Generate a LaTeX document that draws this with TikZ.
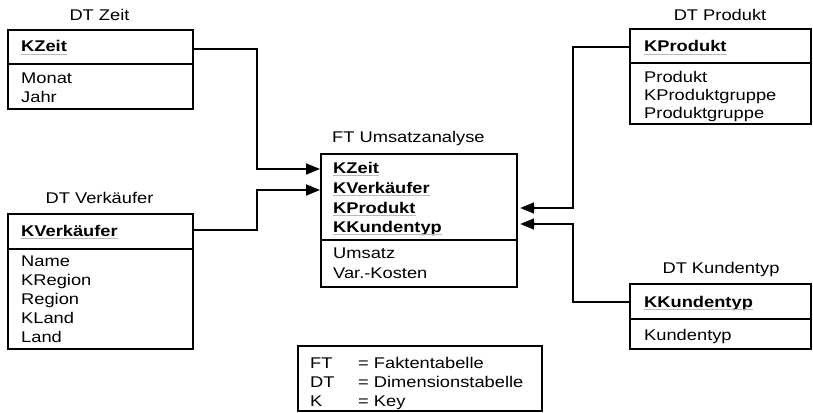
\documentclass[tikz,border=0pt]{standalone}
\usepackage{fontspec}
\setmainfont{Liberation Sans}[FakeStretch=1.18]
\usetikzlibrary{arrows.meta}
\begin{document}
\begin{tikzpicture}[x=1pt,y=-1pt,
  font=\fontsize{15.5}{19}\selectfont,
  box/.style={draw, line width=2.2pt, inner sep=0pt, anchor=north west},
  divider/.style={line width=1.6pt},
  txt/.style={anchor=base west, inner sep=0pt},
  ttl/.style={anchor=base, inner sep=0pt},
  keytxt/.style={anchor=base west, inner sep=0pt, font=\fontsize{15.5}{19}\selectfont\bfseries},
  conn/.style={line width=1.8pt},
  arr/.style={conn, -{Triangle[length=14pt,width=11pt]}},
  ul/.style={draw=gray!55, line width=0.8pt}]
\useasboundingbox (0,0) rectangle (813,412);

% ---------- DT Zeit ----------
\node[box, minimum width=185pt, minimum height=79pt] (zeit) at (7,29) {};
\draw[divider] ([yshift=-35pt]zeit.north west) -- ([yshift=-35pt]zeit.north east);
\node[ttl] (zeitT) at (99.5,21) {DT Zeit};
\node[keytxt] (zeitK) at (21,52) {KZeit};
\draw[ul] ([yshift=-2pt]zeitK.base west) -- ([yshift=-2pt]zeitK.base east);
\node[txt] (zeit1) at (21,83) {Monat};
\node[txt] (zeit2) at (21,102) {Jahr};

% ---------- DT Verkaeufer ----------
\node[box, minimum width=185pt, minimum height=135pt] (verk) at (7,213) {};
\draw[divider] ([yshift=-36pt]verk.north west) -- ([yshift=-36pt]verk.north east);
\node[ttl] (verkT) at (99.5,203) {DT Verkäufer};
\node[keytxt] (verkK) at (21,236) {KVerkäufer};
\draw[ul] ([yshift=-2pt]verkK.base west) -- ([yshift=-2pt]verkK.base east);
\node[txt] (verk1) at (21,266) {Name};
\node[txt] (verk2) at (21,285) {KRegion};
\node[txt] (verk3) at (21,304) {Region};
\node[txt] (verk4) at (21,323) {KLand};
\node[txt] (verk5) at (21,342) {Land};

% ---------- FT Umsatzanalyse ----------
\node[box, minimum width=196pt, minimum height=133pt] (ft) at (320,153) {};
\draw[divider] ([yshift=-87pt]ft.north west) -- ([yshift=-87pt]ft.north east);
\node[txt] (ftT) at (332,142) {FT Umsatzanalyse};
\node[keytxt] (ftK1) at (333,173) {KZeit};
\node[keytxt] (ftK2) at (333,193) {KVerkäufer};
\node[keytxt] (ftK3) at (333,213) {KProdukt};
\node[keytxt] (ftK4) at (333,232) {KKundentyp};
\foreach \k in {ftK1,ftK2,ftK3,ftK4}
  \draw[ul] ([yshift=-2pt]\k.base west) -- ([yshift=-2pt]\k.base east);
\node[txt] (ft1) at (333,258) {Umsatz};
\node[txt] (ft2) at (333,278) {Var.-Kosten};

% ---------- DT Produkt ----------
\node[box, minimum width=181pt, minimum height=95pt] (prod) at (629,28) {};
\draw[divider] ([yshift=-35pt]prod.north west) -- ([yshift=-35pt]prod.north east);
\node[ttl] (prodT) at (720,21) {DT Produkt};
\node[keytxt] (prodK) at (644,52) {KProdukt};
\draw[ul] ([yshift=-2pt]prodK.base west) -- ([yshift=-2pt]prodK.base east);
\node[txt] (prod1) at (644,82) {Produkt};
\node[txt] (prod2) at (644,100) {KProduktgruppe};
\node[txt] (prod3) at (644,118) {Produktgruppe};

% ---------- DT Kundentyp ----------
\node[box, minimum width=181pt, minimum height=65pt] (kund) at (629,283) {};
\draw[divider] ([yshift=-36pt]kund.north west) -- ([yshift=-36pt]kund.north east);
\node[ttl] (kundT) at (721,273) {DT Kundentyp};
\node[keytxt] (kundK) at (644,307) {KKundentyp};
\draw[ul] ([yshift=-2pt]kundK.base west) -- ([yshift=-2pt]kundK.base east);
\node[txt] (kund1) at (644,340) {Kundentyp};

% ---------- Legend ----------
\node[box, minimum width=244pt, minimum height=65pt] (leg) at (297,345) {};
\node[txt] (legA1) at (310,368) {FT};
\node[txt] (legB1) at (358,368) {= Faktentabelle};
\node[txt] (legA2) at (310,387) {DT};
\node[txt] (legB2) at (358,387) {= Dimensionstabelle};
\node[txt] (legA3) at (310,406) {K};
\node[txt] (legB3) at (358,406) {= Key};

% ---------- Connectors ----------
\draw[arr] ([yshift=-20pt]zeit.north east) -- ++(63,0) |- ([yshift=-16pt]ft.north west);
\draw[arr] ([yshift=-17pt]verk.north east) -- ++(63,0) |- ([yshift=-37pt]ft.north west);
\draw[arr, shorten >=2pt] ([yshift=-19pt]prod.north west) -- ++(-56,0) |- ([yshift=-55pt]ft.north east);
\draw[arr, shorten >=2pt] ([yshift=-19pt]kund.north west) -- ++(-56,0) |- ([yshift=-71pt]ft.north east);
\end{tikzpicture}
\end{document}
